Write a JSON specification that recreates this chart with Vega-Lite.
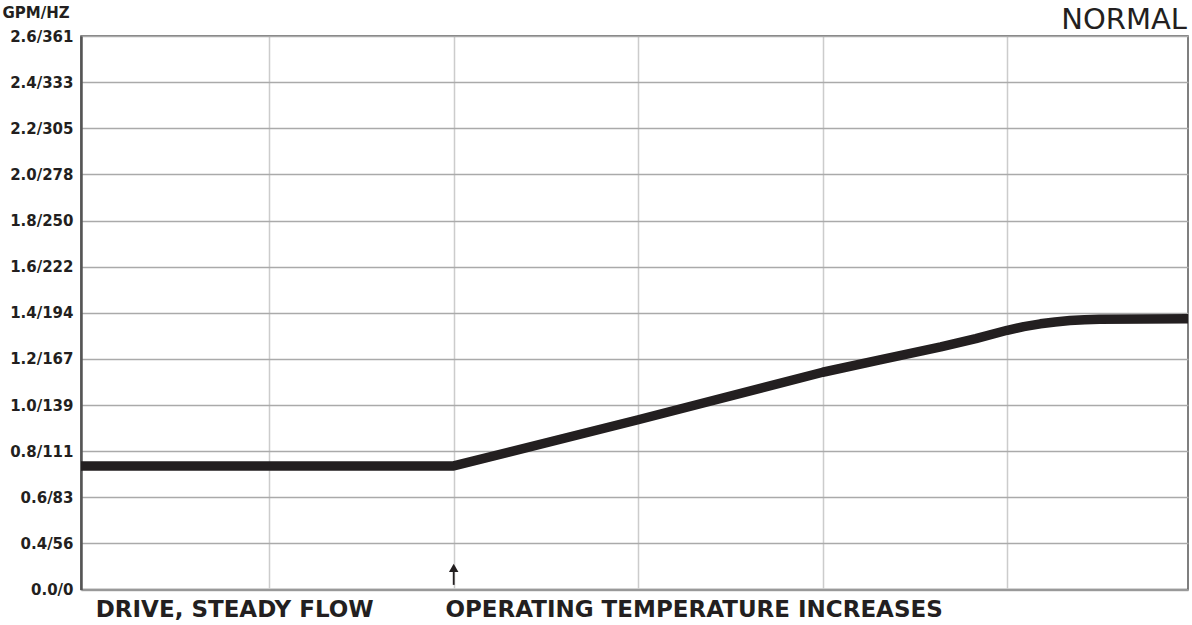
{
  "$schema": "https://vega.github.io/schema/vega-lite/v6.json",
  "width": 1107,
  "height": 553.5,
  "autosize": {"type": "none"},
  "padding": {"left": 81, "top": 36, "right": 4, "bottom": 35.5},
  "background": "white",
  "config": {
    "view": {"stroke": "#555555", "strokeWidth": 1.5},
    "font": "DejaVu Sans"
  },
  "datasets": {
    "curve": [
      {"t": -0.02, "v": 2.68},
      {"t": 2.0, "v": 2.68},
      {"t": 3.0, "v": 3.68},
      {"t": 4.0, "v": 4.71},
      {"t": 4.31, "v": 4.98},
      {"t": 4.64, "v": 5.26},
      {"t": 4.83, "v": 5.44},
      {"t": 5.0, "v": 5.62},
      {"t": 5.09, "v": 5.70},
      {"t": 5.18, "v": 5.76},
      {"t": 5.26, "v": 5.80},
      {"t": 5.34, "v": 5.83},
      {"t": 5.42, "v": 5.85},
      {"t": 5.5, "v": 5.86},
      {"t": 5.98, "v": 5.87}
    ],
    "notes": [
      {"t": 0.06, "v": -0.6, "label": "DRIVE, STEADY FLOW"},
      {"t": 1.955, "v": -0.6, "label": "OPERATING TEMPERATURE INCREASES"}
    ],
    "arrow": [
      {"t": 2.0, "v0": 0.1, "v1": 0.47}
    ]
  },
  "layer": [
    {
      "data": {"name": "curve"},
      "mark": {"type": "line", "color": "#231f20", "strokeWidth": 9.5, "strokeJoin": "round", "strokeCap": "butt", "clip": true},
      "encoding": {
        "x": {
          "field": "t", "type": "quantitative",
          "scale": {"domain": [-0.02, 5.98], "nice": false, "zero": false},
          "axis": {
            "values": [1, 2, 3, 4, 5],
            "labels": false, "ticks": false, "title": null,
            "grid": true, "gridColor": "#cccccc", "gridWidth": 1.5,
            "domainColor": "#999999", "domainWidth": 2
          }
        },
        "y": {
          "field": "v", "type": "quantitative",
          "scale": {"domain": [0, 12], "nice": false, "zero": false},
          "axis": {
            "values": [0, 1, 2, 3, 4, 5, 6, 7, 8, 9, 10, 11, 12],
            "labelExpr": "['0.0/0','0.4/56','0.6/83','0.8/111','1.0/139','1.2/167','1.4/194','1.6/222','1.8/250','2.0/278','2.2/305','2.4/333','2.6/361'][datum.value]",
            "labelFont": "DejaVu Sans", "labelFontWeight": "bold", "labelFontSize": 15,
            "labelColor": "#231f20", "labelPadding": 8, "labelBaseline": "middle",
            "ticks": false, "grid": true, "gridColor": "#aaaaaa", "gridWidth": 1.5,
            "domainColor": "#555555", "domainWidth": 2.5,
            "title": "GPM/HZ", "titleAngle": 0, "titleAlign": "left", "titleBaseline": "alphabetic",
            "titleX": -79, "titleY": -19, "titleFont": "DejaVu Sans", "titleFontWeight": "bold",
            "titleFontSize": 15, "titleColor": "#231f20"
          }
        }
      }
    },
    {
      "data": {"name": "notes"},
      "mark": {"type": "text", "align": "left", "baseline": "alphabetic", "font": "DejaVu Sans", "fontWeight": "bold", "fontSize": 23, "color": "#231f20"},
      "encoding": {
        "x": {"field": "t", "type": "quantitative"},
        "y": {"field": "v", "type": "quantitative"},
        "text": {"field": "label"}
      }
    },
    {
      "data": {"values": [{"t": 5.98, "v": 12.15, "label": "NORMAL"}]},
      "mark": {"type": "text", "align": "right", "baseline": "alphabetic", "font": "DejaVu Sans", "fontWeight": "normal", "fontSize": 29, "color": "#231f20", "dx": -1},
      "encoding": {
        "x": {"field": "t", "type": "quantitative"},
        "y": {"field": "v", "type": "quantitative"},
        "text": {"field": "label"}
      }
    },
    {
      "data": {"name": "arrow"},
      "mark": {"type": "rule", "color": "#231f20", "strokeWidth": 1.8},
      "encoding": {
        "x": {"field": "t", "type": "quantitative"},
        "y": {"field": "v0", "type": "quantitative"},
        "y2": {"field": "v1"}
      }
    },
    {
      "data": {"name": "arrow"},
      "mark": {"type": "point", "shape": "triangle-up", "filled": true, "color": "#231f20", "size": 90, "opacity": 1},
      "encoding": {
        "x": {"field": "t", "type": "quantitative"},
        "y": {"field": "v1", "type": "quantitative"}
      }
    }
  ]
}
